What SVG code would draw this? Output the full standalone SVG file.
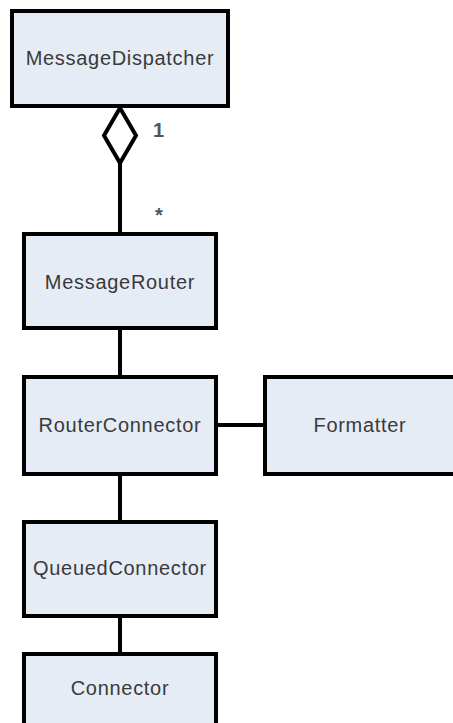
<svg xmlns="http://www.w3.org/2000/svg" width="453" height="723" viewBox="0 0 453 723">
<style>
.box{fill:#E6ECF6;stroke:#000;stroke-width:4}
.lbl{font-family:"Liberation Sans",Arial,sans-serif;font-size:20px;letter-spacing:0.7px;fill:#3a3a3a;text-anchor:middle}
.mult{font-family:"Liberation Sans",Arial,sans-serif;font-size:20px;font-weight:bold;fill:#555}
.conn{stroke:#000;stroke-width:4;fill:none}
</style>
<rect width="453" height="723" fill="#fff"/>
<g id="connectors">
<path class="conn" d="M120,163 V234"/>
<path class="conn" d="M120,108 L136,135.5 L120,163 L104,135.5 Z" style="fill:#fff"/>
<path class="conn" d="M120,330 V377"/>
<path class="conn" d="M120,476 V522"/>
<path class="conn" d="M120,618 V654"/>
<path class="conn" d="M216,425 H265"/>
<text class="mult" x="153" y="137">1</text>
<text class="mult" x="155" y="222">*</text>
</g>
<g id="MessageDispatcher"><rect class="box" x="12" y="11" width="216" height="95"/><text class="lbl" x="120" y="65">MessageDispatcher</text></g>
<g id="MessageRouter"><rect class="box" x="24" y="234" width="192" height="94"/><text class="lbl" x="120" y="289">MessageRouter</text></g>
<g id="RouterConnector"><rect class="box" x="24" y="377" width="192" height="97"/><text class="lbl" x="120" y="432">RouterConnector</text></g>
<g id="Formatter"><rect class="box" x="265" y="377" width="200" height="97"/><text class="lbl" x="360" y="432">Formatter</text></g>
<g id="QueuedConnector"><rect class="box" x="24" y="522" width="192" height="94"/><text class="lbl" x="120" y="575">QueuedConnector</text></g>
<g id="Connector"><rect class="box" x="24" y="654" width="192" height="90"/><text class="lbl" x="120" y="695">Connector</text></g>
</svg>
